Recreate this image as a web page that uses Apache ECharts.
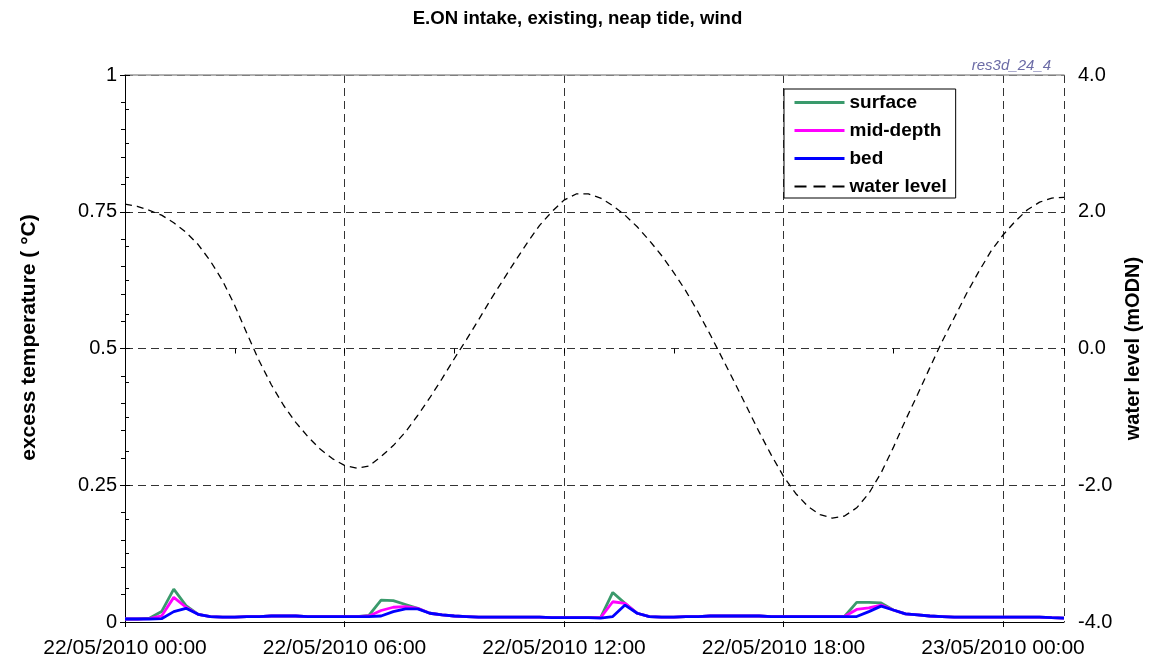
<!DOCTYPE html>
<html>
<head>
<meta charset="utf-8">
<script src="https://cdn.jsdelivr.net/npm/echarts@6/dist/echarts.min.js"></script>
<style>html,body{margin:0;padding:0;background:#fff;}#c{width:1155px;height:664px;}</style>
</head>
<body>
<div id="c"></div>
<script>
// time in hours from 22/05/2010 00:00 (20-minute steps)
const times = [0,0.333,0.667,1,1.333,1.667,2,2.333,2.667,3,3.333,3.667,4,4.333,4.667,5,5.333,5.667,6,6.333,6.667,7,7.333,7.667,8,8.333,8.667,9,9.333,9.667,10,10.333,10.667,11,11.333,11.667,12,12.333,12.667,13,13.333,13.667,14,14.333,14.667,15,15.333,15.667,16,16.333,16.667,17,17.333,17.667,18,18.333,18.667,19,19.333,19.667,20,20.333,20.667,21,21.333,21.667,22,22.333,22.667,23,23.333,23.667,24,24.333,24.667,25,25.333,25.667];
const surface = [0.0055,0.0055,0.007,0.019,0.060,0.030,0.014,0.010,0.009,0.009,0.010,0.010,0.011,0.011,0.011,0.010,0.010,0.010,0.010,0.010,0.012,0.040,0.039,0.032,0.025,0.016,0.013,0.011,0.010,0.009,0.009,0.009,0.009,0.009,0.009,0.008,0.008,0.008,0.008,0.008,0.054,0.034,0.016,0.010,0.009,0.009,0.010,0.010,0.011,0.011,0.011,0.011,0.011,0.010,0.010,0.010,0.010,0.010,0.010,0.010,0.036,0.036,0.035,0.022,0.015,0.013,0.011,0.010,0.009,0.009,0.009,0.009,0.009,0.009,0.009,0.009,0.008,0.007];
const midDepth = [0.0055,0.0055,0.006,0.011,0.045,0.027,0.014,0.010,0.009,0.009,0.010,0.010,0.011,0.011,0.011,0.010,0.010,0.010,0.010,0.010,0.011,0.021,0.027,0.028,0.025,0.016,0.013,0.011,0.010,0.009,0.009,0.009,0.009,0.009,0.009,0.008,0.008,0.008,0.008,0.008,0.037,0.034,0.016,0.010,0.009,0.009,0.010,0.010,0.011,0.011,0.011,0.011,0.011,0.010,0.010,0.010,0.010,0.010,0.010,0.010,0.023,0.026,0.031,0.022,0.015,0.013,0.011,0.010,0.009,0.009,0.009,0.009,0.009,0.009,0.009,0.009,0.008,0.007];
const bed = [0.0055,0.0055,0.0055,0.006,0.019,0.025,0.014,0.010,0.009,0.009,0.010,0.010,0.011,0.011,0.011,0.010,0.010,0.010,0.010,0.010,0.010,0.011,0.019,0.024,0.024,0.016,0.013,0.011,0.010,0.009,0.009,0.009,0.009,0.009,0.009,0.008,0.008,0.008,0.008,0.007,0.010,0.031,0.016,0.010,0.009,0.009,0.010,0.010,0.011,0.011,0.011,0.011,0.011,0.010,0.010,0.010,0.010,0.010,0.010,0.010,0.010,0.019,0.029,0.022,0.015,0.013,0.011,0.010,0.009,0.009,0.009,0.009,0.009,0.009,0.009,0.009,0.008,0.007];
const waterLevel = [2.11,2.08,2.02,1.95,1.84,1.70,1.52,1.28,0.99,0.63,0.22,-0.18,-0.53,-0.83,-1.08,-1.29,-1.47,-1.61,-1.71,-1.75,-1.72,-1.58,-1.42,-1.22,-0.98,-0.72,-0.44,-0.15,0.13,0.42,0.72,1.00,1.28,1.55,1.80,2.00,2.17,2.26,2.26,2.20,2.09,1.95,1.78,1.58,1.36,1.11,0.84,0.53,0.20,-0.15,-0.50,-0.86,-1.22,-1.56,-1.87,-2.12,-2.31,-2.43,-2.48,-2.45,-2.33,-2.12,-1.82,-1.45,-1.05,-0.67,-0.28,0.10,0.45,0.80,1.12,1.42,1.66,1.86,2.03,2.14,2.20,2.21];
const xTickLabels = ['22/05/2010 00:00','22/05/2010 06:00','22/05/2010 12:00','22/05/2010 18:00','23/05/2010 00:00'];
const seriesNames = ['surface','mid-depth','bed','water level'];

const FONT = 'Arial, "Liberation Sans", sans-serif';
const pair = a => a.map((v,i)=>[times[i], v]);
const chart = echarts.init(document.getElementById('c'), null, {renderer:'canvas'});
const gridDash = [8,5];
chart.setOption({
  animation:false,
  backgroundColor:'#fff',
  title:[
    {text:'E.ON intake, existing, neap tide, wind', left:'center', top:4,
     textStyle:{fontFamily:FONT, fontSize:18.6, fontWeight:'bold', color:'#000'}},
    {text:'res3d_24_4', right:99, top:53,
     textStyle:{fontFamily:FONT, fontSize:15, fontStyle:'italic', fontWeight:'normal', color:'#6B6BA6'}}
  ],
  grid:{left:125, right:91, top:75, bottom:42, show:false},
  legend:{
    orient:'vertical', left:784, top:89,
    data:[
      {name:seriesNames[0], lineStyle:{width:3}},
      {name:seriesNames[1], lineStyle:{width:3}},
      {name:seriesNames[2], lineStyle:{width:3}},
      {name:seriesNames[3], lineStyle:{width:2.2, type:[12,7]}}
    ],
    backgroundColor:'#fff', borderColor:'#000', borderWidth:1, padding:[4,9,2,9],
    itemWidth:50, itemHeight:14, itemGap:9,
    itemStyle:{opacity:0},
    textStyle:{fontFamily:FONT, fontSize:19, fontWeight:'bold', color:'#000'}
  },
  xAxis:[{
    type:'value', min:times[0], max:times[times.length-1], interval:6,
    axisLine:{show:true, lineStyle:{color:'#000', width:1}},
    axisTick:{show:true, length:5, lineStyle:{color:'#000'}},
    axisLabel:{margin:16, fontFamily:FONT, fontSize:21, color:'#000', showMaxLabel:false,
      formatter:v=>{ const k=Math.round(v/6); return Math.abs(v-k*6)<1e-6 ? (xTickLabels[k]||'') : ''; }},
    splitLine:{show:true, lineStyle:{color:'#333', type:gridDash, width:1}}
  },{
    type:'value', min:times[0], max:times[times.length-1], interval:3, position:'bottom',
    axisLine:{show:false}, axisLabel:{show:false}, splitLine:{show:false},
    axisTick:{show:true, length:5, lineStyle:{color:'#000'}}
  },{
    type:'value', min:times[0], max:times[times.length-1], position:'top',
    axisLine:{show:true, lineStyle:{color:'#999', width:1.5}},
    axisTick:{show:false}, axisLabel:{show:false}, splitLine:{show:false}
  }],
  yAxis:[{
    type:'value', min:0, max:1, interval:0.25, position:'left',
    name:'excess temperature ( °C)', nameLocation:'middle', nameGap:85, nameRotate:90,
    nameTextStyle:{fontFamily:FONT, fontSize:21, fontWeight:'bold', color:'#000', padding:[0,0,0,22]},
    axisLine:{show:true, lineStyle:{color:'#000'}},
    axisTick:{show:true, length:5, lineStyle:{color:'#000'}},
    minorTick:{show:true, splitNumber:5, length:4, lineStyle:{color:'#000'}},
    axisLabel:{margin:8, fontFamily:FONT, fontSize:20, color:'#000'},
    splitLine:{show:true, lineStyle:{color:'#333', type:gridDash, width:1}}
  },{
    type:'value', min:-4, max:4, interval:2, position:'right',
    name:'water level (mODN)', nameLocation:'middle', nameGap:56, nameRotate:90,
    nameTextStyle:{fontFamily:FONT, fontSize:20, fontWeight:'bold', color:'#000'},
    axisLine:{show:true, lineStyle:{color:'#000'}},
    axisTick:{show:true, length:5, lineStyle:{color:'#000'}},
    minorTick:{show:true, splitNumber:4, length:4, lineStyle:{color:'#000'}},
    axisLabel:{margin:14, fontFamily:FONT, fontSize:20, color:'#000', formatter:v=>v.toFixed(1)},
    splitLine:{show:false}
  }],
  series:[
    {name:seriesNames[0], type:'line', xAxisIndex:0, yAxisIndex:0, data:pair(surface), symbol:'none', color:'#3A9A6C', lineStyle:{width:2.8, color:'#3A9A6C'}, z:3},
    {name:seriesNames[1], type:'line', xAxisIndex:0, yAxisIndex:0, data:pair(midDepth), symbol:'none', color:'#FF00FF', lineStyle:{width:2.8, color:'#FF00FF'}, z:4},
    {name:seriesNames[2], type:'line', xAxisIndex:0, yAxisIndex:0, data:pair(bed), symbol:'none', color:'#0000FF', lineStyle:{width:2.8, color:'#0000FF'}, z:5},
    {name:seriesNames[3], type:'line', xAxisIndex:0, yAxisIndex:1, data:pair(waterLevel), symbol:'none', color:'#000', lineStyle:{width:1.3, color:'#000', type:[7,5]}, z:2}
  ]
});
</script>
</body>
</html>
